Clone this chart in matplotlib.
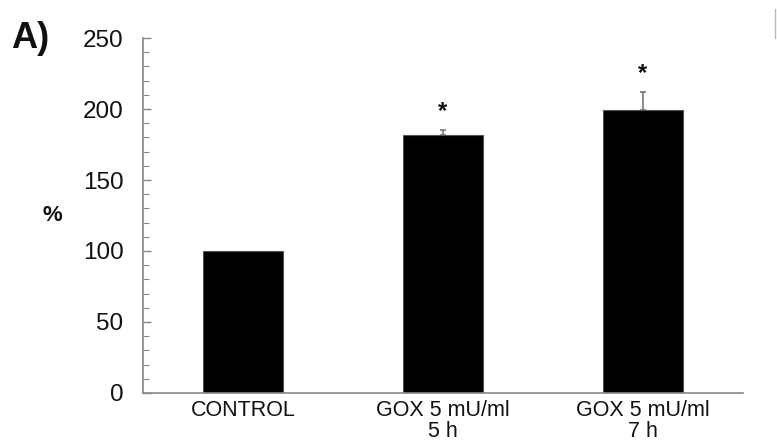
"""Bar chart: GOX treatment vs control (%)."""
import matplotlib.pyplot as plt
from matplotlib.lines import Line2D
from matplotlib.ticker import MultipleLocator

categories = ['CONTROL', 'GOX 5 mU/ml\n5 h', 'GOX 5 mU/ml\n7 h']
values = [100, 182, 199]
errors_up = [0, 3, 13]
significant = [False, True, True]

plt.rcParams['font.family'] = ['Liberation Sans', 'DejaVu Sans']

fig = plt.figure(figsize=(7.77, 4.48), dpi=100)
ax = fig.add_axes([0.184, 0.123, 0.772, 0.792])

x = list(range(len(categories)))
ax.bar(x, values, width=0.4, color='black', edgecolor='#555555', linewidth=0.8,
       zorder=2)

# upper error bars only where there is an error
ex = [xi for xi, e in zip(x, errors_up) if e > 0]
ev = [v for v, e in zip(values, errors_up) if e > 0]
ee = [e for e in errors_up if e > 0]
ax.errorbar(ex, ev, yerr=[[0] * len(ee), ee], fmt='none', ecolor='#777777',
            elinewidth=1.2, capsize=2.5, capthick=1.2, zorder=1)

# significance marks
for xi, v, e, s in zip(x, values, errors_up, significant):
    if s:
        ax.text(xi, v + e + 5, '*', ha='center', va='bottom',
                fontsize=17, fontweight='bold', color='#111111')

ax.set_xlim(-0.5, 2.5)
ax.set_ylim(0, 250)
ax.yaxis.set_major_locator(MultipleLocator(50))
ax.yaxis.set_minor_locator(MultipleLocator(10))

for side in ['top', 'right']:
    ax.spines[side].set_visible(False)
for side in ['left', 'bottom']:
    ax.spines[side].set_color('#888888')
    ax.spines[side].set_linewidth(1.2)

ax.tick_params(axis='y', which='major', direction='in', length=6, width=1,
               color='#888888', pad=14, labelsize=17.5, labelcolor='#111111')
ax.tick_params(axis='y', which='minor', direction='in', length=4, width=0.8,
               color='#888888')
ax.tick_params(axis='x', length=0, pad=5, labelsize=15.5, labelcolor='#111111')
ax.set_xticks(x)
ax.set_xticklabels(categories, linespacing=1.0)

fig.text(0.068, 0.52, '%', fontsize=16, fontweight='bold', ha='center',
         va='center', color='#111111')
fig.text(0.014, 0.915, 'A)', fontsize=26, fontweight='bold', ha='left',
         va='center', color='#111111')

# edge of the neighbouring panel
fig.add_artist(Line2D([0.998, 0.998], [0.915, 0.98], color='#bbbbbb', lw=1))

fig.savefig('out.png', dpi=100)
